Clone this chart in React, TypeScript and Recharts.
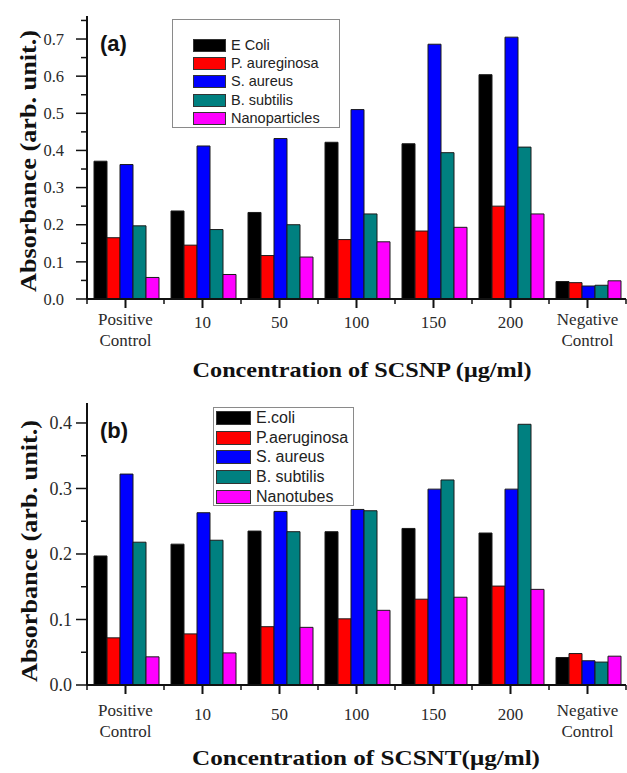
import { BarChart, Bar, XAxis, YAxis, Legend } from "recharts";

const CATEGORIES = ["Positive Control", "10", "50", "100", "150", "200", "Negative Control"];
const SERIES_COLORS = ["#000000", "#ff0000", "#0000ff", "#008080", "#ff00ff"];

// panel (a) - SCSNP
const NAMES_A = ["E Coli", "P. aureginosa", "S. aureus", "B. subtilis", "Nanoparticles"];
const ECOLI_A = [0.371, 0.237, 0.233, 0.422, 0.418, 0.604, 0.047];
const PAER_A = [0.165, 0.145, 0.117, 0.16, 0.183, 0.25, 0.044];
const SAUR_A = [0.362, 0.412, 0.432, 0.51, 0.686, 0.705, 0.035];
const BSUB_A = [0.197, 0.187, 0.2, 0.229, 0.394, 0.409, 0.037];
const NANO_A = [0.058, 0.066, 0.113, 0.154, 0.193, 0.229, 0.049];
const Y_TICKS_A = [0, 0.05, 0.1, 0.15, 0.2, 0.25, 0.3, 0.35, 0.4, 0.45, 0.5, 0.55, 0.6, 0.65, 0.7, 0.75];

// panel (b) - SCSNT
const NAMES_B = ["E.coli", "P.aeruginosa", "S. aureus", "B. subtilis", "Nanotubes"];
const ECOLI_B = [0.197, 0.215, 0.235, 0.234, 0.239, 0.232, 0.042];
const PAER_B = [0.072, 0.078, 0.089, 0.101, 0.131, 0.151, 0.048];
const SAUR_B = [0.322, 0.263, 0.265, 0.268, 0.299, 0.299, 0.037];
const BSUB_B = [0.218, 0.221, 0.234, 0.266, 0.313, 0.398, 0.035];
const NANO_B = [0.043, 0.049, 0.088, 0.114, 0.134, 0.146, 0.044];
const Y_TICKS_B = [0, 0.05, 0.1, 0.15, 0.2, 0.25, 0.3, 0.35, 0.4];

const SERIF = "'Liberation Serif', 'Times New Roman', serif";
const SANS = "'Liberation Sans', Arial, sans-serif";

function buildRows(series: number[][]) {
  return CATEGORIES.map((name, i) => {
    const row: Record<string, string | number> = { name };
    series.forEach((s, k) => {
      row[`s${k}`] = s[i];
    });
    return row;
  });
}

function XTick(props: any) {
  const { x, y, payload, index, band, cfg } = props;
  const lines = String(payload.value).split(" ");
  const last = index === CATEGORIES.length - 1;
  return (
    <g>
      <line x1={x} y1={y} x2={x} y2={y + 9} stroke="#111" strokeWidth={2} />
      <line x1={x - band / 2} y1={y} x2={x - band / 2} y2={y + 5} stroke="#111" strokeWidth={1.5} />
      {last && <line x1={x + band / 2} y1={y} x2={x + band / 2} y2={y + 5} stroke="#111" strokeWidth={1.5} />}
      <text
        x={x}
        y={y + (lines.length > 1 ? cfg.twoLineY : cfg.oneLineY)}
        textAnchor="middle"
        fontFamily={SERIF}
        fontSize={17}
        fill="#2a2a2a"
      >
        {lines.map((l, i) => (
          <tspan key={i} x={x} dy={i === 0 ? 0 : 21}>
            {l}
          </tspan>
        ))}
      </text>
    </g>
  );
}

function YTick(props: any) {
  const { x, y, payload, cfg } = props;
  const v = payload.value as number;
  const major = Math.round(v * 100) % 10 === 0;
  return (
    <g>
      <line x1={x - (major ? 11 : 6)} y1={y} x2={x} y2={y} stroke="#111" strokeWidth={1.5} />
      {major && (
        <text
          x={x - cfg.yLabelGap}
          y={y + cfg.yFont * 0.35}
          textAnchor="end"
          fontFamily={SERIF}
          fontSize={cfg.yFont}
          fill="#2a2a2a"
        >
          {v.toFixed(1)}
        </text>
      )}
    </g>
  );
}

function makeLegend(cfg: any) {
  return (props: any) => {
    // keep the series order, not alphabetical
    const items = [...(props.payload || [])].sort(
      (a: any, b: any) => cfg.names.indexOf(a.value) - cfg.names.indexOf(b.value)
    );
    return (
      <div
        style={{
          boxSizing: "border-box",
          width: cfg.legend.width,
          height: cfg.legend.height,
          border: "1px solid #8a8a8a",
          background: "#fff",
          paddingTop: cfg.legend.padTop,
          paddingLeft: cfg.legend.padLeft,
        }}
      >
        {items.map((entry: any, i: number) => (
          <div key={i} style={{ display: "flex", alignItems: "center", height: cfg.legend.rowH }}>
            <span
              style={{
                display: "inline-block",
                boxSizing: "border-box",
                width: cfg.legend.swW,
                height: cfg.legend.swH,
                background: entry.color,
                border: "1px solid #333",
                marginRight: 5,
              }}
            />
            <span style={{ fontFamily: SANS, fontSize: cfg.legend.font, color: "#222", lineHeight: 1 }}>
              {entry.value}
            </span>
          </div>
        ))}
      </div>
    );
  };
}

function Panel({ cfg }: { cfg: any }) {
  const plotW = 627 - cfg.axisWidth - 1;
  const band = plotW / CATEGORIES.length;
  return (
    <div style={{ position: "absolute", left: 0, top: cfg.top, width: 627, height: cfg.height }}>
      <BarChart
        width={627}
        height={cfg.height}
        data={cfg.rows}
        margin={{ top: 16, right: 1, left: 0, bottom: 0 }}
        barCategoryGap={7}
        barGap={0}
      >
        <XAxis
          dataKey="name"
          height={cfg.xAxisHeight}
          interval={0}
          tickSize={0}
          tickMargin={0}
          tickLine={false}
          axisLine={{ stroke: "#111", strokeWidth: 2 }}
          tick={(p: any) => <XTick {...p} band={band} cfg={cfg} />}
          label={(p: any) => {
            const vb = p.viewBox;
            return (
              <text
                x={cfg.xTitleX}
                y={vb.y + cfg.xTitleDy}
                textAnchor="middle"
                fontFamily={SERIF}
                fontWeight="bold"
                fontSize={22}
                textLength={cfg.xTitleLen}
                lengthAdjust="spacingAndGlyphs"
                fill="#111"
              >
                {cfg.xTitle}
              </text>
            );
          }}
        />
        <XAxis
          xAxisId="top"
          orientation="top"
          dataKey="name"
          height={0}
          tick={false}
          tickLine={false}
          axisLine={{ stroke: "#111", strokeWidth: 2.5 }}
        />
        <YAxis
          width={cfg.axisWidth}
          domain={[0, cfg.yMax]}
          ticks={cfg.yTicks}
          interval={0}
          allowDataOverflow
          tickSize={0}
          tickMargin={0}
          tickLine={false}
          axisLine={{ stroke: "#111", strokeWidth: 2 }}
          tick={(p: any) => <YTick {...p} cfg={cfg} />}
          label={() => {
            const cx = cfg.yTitleX;
            const cy = cfg.yTitleY;
            return (
              <text
                x={cx}
                y={cy}
                transform={`rotate(-90 ${cx} ${cy})`}
                textAnchor="middle"
                dominantBaseline="central"
                fontFamily={SERIF}
                fontWeight="bold"
                fontSize={23}
                textLength={262}
                lengthAdjust="spacingAndGlyphs"
                fill="#111"
              >
                Absorbance (arb. unit.)
              </text>
            );
          }}
        />
        <YAxis
          yAxisId="right"
          orientation="right"
          width={0}
          domain={[0, 1]}
          tick={false}
          tickLine={false}
          axisLine={{ stroke: "#777", strokeWidth: 1 }}
        />
        <Legend
          layout="vertical"
          align="center"
          verticalAlign="middle"
          content={makeLegend(cfg)}
          wrapperStyle={{ left: cfg.legend.left, top: cfg.legend.top, width: cfg.legend.width, height: cfg.legend.height }}
        />
        {cfg.names.map((n: string, k: number) => (
          <Bar
            key={n}
            dataKey={`s${k}`}
            name={n}
            fill={SERIES_COLORS[k]}
            stroke="#1a1a1a"
            strokeWidth={1}
            isAnimationActive={false}
          />
        ))}
      </BarChart>
      <div
        style={{
          position: "absolute",
          left: 100,
          top: cfg.tagTop,
          fontFamily: SANS,
          fontWeight: "bold",
          fontSize: 22,
          lineHeight: 1,
          color: "#111",
        }}
      >
        {cfg.tag}
      </div>
    </div>
  );
}

const PANEL_A = {
  top: 0,
  height: 390,
  axisWidth: 87,
  xAxisHeight: 91,
  yMax: 0.762,
  yTicks: Y_TICKS_A,
  yFont: 16.5,
  yLabelGap: 23,
  rows: buildRows([ECOLI_A, PAER_A, SAUR_A, BSUB_A, NANO_A]),
  names: NAMES_A,
  twoLineY: 26,
  oneLineY: 29,
  xTitle: "Concentration of SCSNP (\u03bcg/ml)",
  xTitleX: 362,
  xTitleDy: 78,
  xTitleLen: 339,
  yTitleX: 28,
  yTitleY: 161,
  tag: "(a)",
  tagTop: 33,
  legend: { left: 172, top: 19, width: 168, height: 109, padTop: 16, padLeft: 20, rowH: 18.3, swW: 33, swH: 13, font: 14.5 },
};

const PANEL_B = {
  top: 387,
  height: 386,
  axisWidth: 87,
  xAxisHeight: 88,
  yMax: 0.4305,
  yTicks: Y_TICKS_B,
  yFont: 18,
  yLabelGap: 15,
  rows: buildRows([ECOLI_B, PAER_B, SAUR_B, BSUB_B, NANO_B]),
  names: NAMES_B,
  twoLineY: 31,
  oneLineY: 35,
  xTitle: "Concentration of SCSNT(\u03bcg/ml)",
  xTitleX: 366,
  xTitleDy: 80,
  xTitleLen: 348,
  yTitleX: 29,
  yTitleY: 551 - 387,
  tag: "(b)",
  tagTop: 420 - 387,
  legend: { left: 213, top: 20, width: 141, height: 99, padTop: 0, padLeft: 2, rowH: 19.7, swW: 35, swH: 14, font: 16 },
};

export default function App() {
  return (
    <div style={{ position: "absolute", left: 0, top: 0, width: 627, height: 773, background: "#fff" }}>
      <Panel cfg={PANEL_A} />
      <Panel cfg={PANEL_B} />
    </div>
  );
}
